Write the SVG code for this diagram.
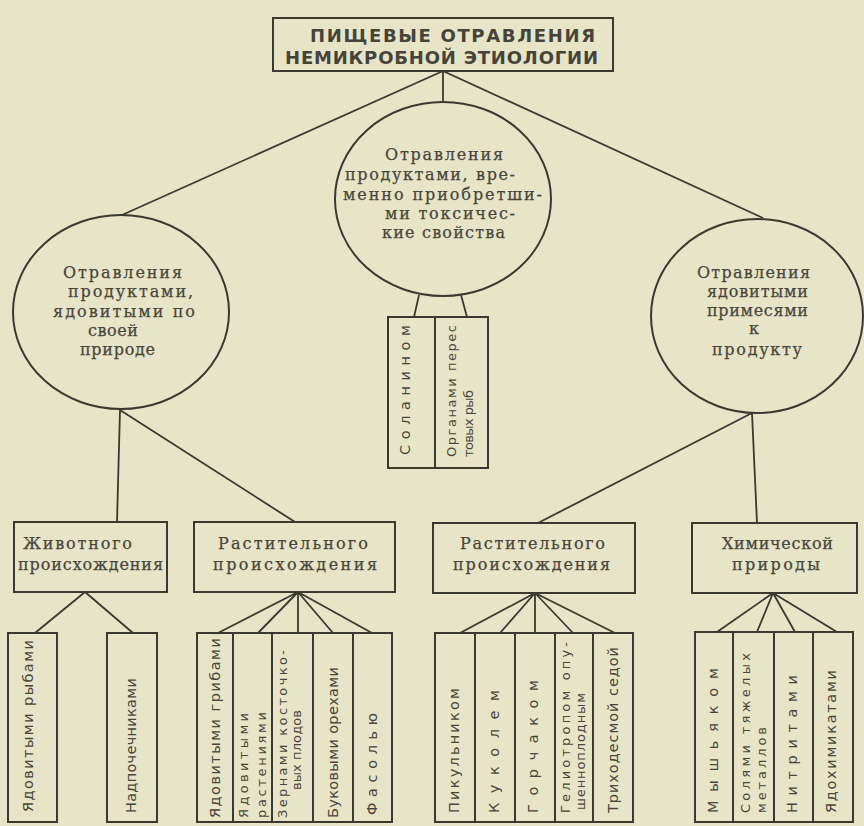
<svg xmlns="http://www.w3.org/2000/svg" width="864" height="826" viewBox="0 0 864 826">
<style>
.bg{fill:#e8e4c7}
.sh{fill:none;stroke:#3a3930;stroke-width:2}
.ln{fill:none;stroke:#3a3930;stroke-width:1.8}
.t{font-family:"DejaVu Serif","Liberation Serif",serif;font-size:16px;fill:#47463c;stroke:#47463c;stroke-width:0.25}
.h{font-family:"DejaVu Sans","Liberation Sans",sans-serif;font-size:18px;font-weight:bold;fill:#45443a}
.r{font-family:"DejaVu Sans","Liberation Sans",sans-serif;font-size:14.5px;fill:#47463c;dominant-baseline:central}
.r2{font-family:"DejaVu Sans","Liberation Sans",sans-serif;font-size:13px;fill:#47463c;dominant-baseline:central}
</style>
<rect class="bg" x="0" y="0" width="864" height="826"/>
<g id="connectors">
<path class="ln" d="M443 71 L122 215 M443 71 L443 102 M443 71 L763 218"/>
<path class="ln" d="M419 295 L414 317 M461 295 L467 317"/>
<path class="ln" d="M120 410 L117 522 M120 410 L295 522"/>
<path class="ln" d="M752 413 L538 523 M752 413 L757 523"/>
<path class="ln" d="M85 592 L35 633 M85 592 L133 633"/>
<path class="ln" d="M298 592 L218 633 M298 592 L258 633 M298 592 L298 633 M298 592 L333 633 M298 592 L372 633"/>
<path class="ln" d="M535 593 L460 633 M535 593 L500 633 M535 593 L535 633 M535 593 L573 633 M535 593 L615 633"/>
<path class="ln" d="M773 593 L717 632 M773 593 L757 632 M773 593 L795 632 M773 593 L837 632"/>
</g>
<g id="root">
<rect class="sh" x="273" y="18" width="340" height="53"/>
<text class="h" x="310" y="42" textLength="285">ПИЩЕВЫЕ ОТРАВЛЕНИЯ</text>
<text class="h" x="285" y="64" textLength="313">НЕМИКРОБНОЙ ЭТИОЛОГИИ</text>
</g>
<g id="mid-circle">
<ellipse class="sh" cx="443" cy="199" rx="108" ry="97"/>
<text class="t" x="385" y="160" textLength="118">Отравления</text>
<text class="t" x="345" y="180" textLength="170">продуктами, вре-</text>
<text class="t" x="343" y="200" textLength="199">менно приобретши-</text>
<text class="t" x="385" y="219" textLength="130">ми токсичес-</text>
<text class="t" x="382" y="238" textLength="123">кие свойства</text>
</g>
<g id="left-circle">
<ellipse class="sh" cx="121" cy="312" rx="108" ry="97"/>
<text class="t" x="63" y="278" textLength="119">Отравления</text>
<text class="t" x="68" y="297" textLength="125">продуктами,</text>
<text class="t" x="53" y="317" textLength="142">ядовитыми по</text>
<text class="t" x="88" y="336" textLength="50">своей</text>
<text class="t" x="80" y="355" textLength="75">природе</text>
</g>
<g id="right-circle">
<ellipse class="sh" cx="757" cy="316" rx="106" ry="97"/>
<text class="t" x="697" y="278" textLength="113">Отравления</text>
<text class="t" x="707" y="297" textLength="101">ядовитыми</text>
<text class="t" x="707" y="316" textLength="101">примесями</text>
<text class="t" x="749" y="334">к</text>
<text class="t" x="712" y="355" textLength="90">продукту</text>
</g>
<g id="mid-boxes">
<rect class="sh" x="388" y="317" width="47" height="151"/>
<rect class="sh" x="435" y="317" width="53" height="151"/>
<text class="r" transform="translate(405,455) rotate(-90)" textLength="130">Соланином</text>
<text class="r2" transform="translate(451,457) rotate(-90)" textLength="132">Органами перес</text>
<text class="r2" transform="translate(468,457) rotate(-90)" textLength="67">товых рыб</text>
</g>
<g id="animal">
<rect class="sh" x="14" y="522" width="153" height="70"/>
<text class="t" x="23" y="549" textLength="109">Животного</text>
<text class="t" x="18" y="570" textLength="145">происхождения</text>
</g>
<g id="plant-left">
<rect class="sh" x="194" y="522" width="201" height="70"/>
<text class="t" x="218" y="549" textLength="150">Растительного</text>
<text class="t" x="213" y="570" textLength="164">происхождения</text>
</g>
<g id="plant-right">
<rect class="sh" x="433" y="523" width="202" height="70"/>
<text class="t" x="460" y="549" textLength="145">Растительного</text>
<text class="t" x="453" y="570" textLength="157">происхождения</text>
</g>
<g id="chemical">
<rect class="sh" x="692" y="523" width="165" height="70"/>
<text class="t" x="722" y="549" textLength="111">Химической</text>
<text class="t" x="732" y="570" textLength="88">природы</text>
</g>
<g id="animal-items">
<rect class="sh" x="8" y="633" width="49" height="189"/>
<rect class="sh" x="107" y="633" width="50" height="189"/>
<text class="r" transform="translate(28,812) rotate(-90)" textLength="172">Ядовитыми рыбами</text>
<text class="r" transform="translate(131,813) rotate(-90)" textLength="135">Надпочечниками</text>
</g>
<g id="plant-left-items">
<rect class="sh" x="197" y="633" width="36" height="189"/>
<rect class="sh" x="233" y="633" width="39" height="189"/>
<rect class="sh" x="272" y="633" width="41" height="189"/>
<rect class="sh" x="313" y="633" width="40" height="189"/>
<rect class="sh" x="353" y="633" width="39" height="189"/>
<text class="r" transform="translate(215,818) rotate(-90)" textLength="180">Ядовитыми грибами</text>
<text class="r2" transform="translate(243,818) rotate(-90)" textLength="105">Ядовитыми</text>
<text class="r2" transform="translate(261,818) rotate(-90)" textLength="106">растениями</text>
<text class="r2" transform="translate(282,818) rotate(-90)" textLength="168">Зернами косточко-</text>
<text class="r2" transform="translate(296,790) rotate(-90)" textLength="80">вых плодов</text>
<text class="r" transform="translate(333,818) rotate(-90)" textLength="151">Буковыми орехами</text>
<text class="r" transform="translate(372,815) rotate(-90)" textLength="102">Фасолью</text>
</g>
<g id="plant-right-items">
<rect class="sh" x="435" y="633" width="40" height="189"/>
<rect class="sh" x="475" y="633" width="40" height="189"/>
<rect class="sh" x="515" y="633" width="40" height="189"/>
<rect class="sh" x="555" y="633" width="38" height="189"/>
<rect class="sh" x="593" y="633" width="40" height="189"/>
<text class="r" transform="translate(454,813) rotate(-90)" textLength="125">Пикульником</text>
<text class="r" transform="translate(494,813) rotate(-90)" textLength="123">Куколем</text>
<text class="r" transform="translate(533,813) rotate(-90)" textLength="133">Горчаком</text>
<text class="r2" transform="translate(565,813) rotate(-90)" textLength="171">Гелиотропом опу-</text>
<text class="r2" transform="translate(580,810) rotate(-90)" textLength="117">шенноплодным</text>
<text class="r" transform="translate(613,813) rotate(-90)" textLength="166">Триходесмой седой</text>
</g>
<g id="chemical-items">
<rect class="sh" x="695" y="632" width="38" height="190"/>
<rect class="sh" x="733" y="632" width="41" height="190"/>
<rect class="sh" x="774" y="632" width="39" height="190"/>
<rect class="sh" x="813" y="632" width="40" height="190"/>
<text class="r" transform="translate(713,813) rotate(-90)" textLength="145">Мышьяком</text>
<text class="r2" transform="translate(745,813) rotate(-90)" textLength="160">Солями тяжелых</text>
<text class="r2" transform="translate(761,813) rotate(-90)" textLength="86">металлов</text>
<text class="r" transform="translate(792,813) rotate(-90)" textLength="138">Нитритами</text>
<text class="r" transform="translate(831,813) rotate(-90)" textLength="143">Ядохимикатами</text>
</g>
</svg>
